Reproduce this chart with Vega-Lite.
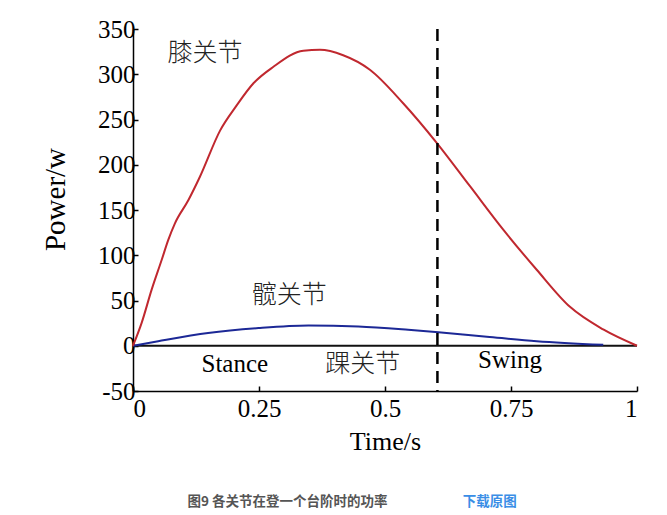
{
  "$schema": "https://vega.github.io/schema/vega-lite/v6.json",
  "width": 504,
  "height": 362,
  "autosize": "none",
  "padding": {"left": 133, "top": 29, "right": 30, "bottom": 124},
  "background": "white",
  "config": {
    "view": {"stroke": null},
    "axis": {
      "grid": false,
      "domainColor": "black",
      "domainWidth": 1.5,
      "tickColor": "black",
      "tickWidth": 1.5,
      "tickSize": -5,
      "labelFont": "Liberation Serif",
      "labelFontSize": 25,
      "labelColor": "black",
      "titleFont": "Liberation Serif",
      "titleFontWeight": "normal",
      "titleColor": "black"
    }
  },
  "title": {
    "text": "图9 各关节在登一个台阶时的功率",
    "orient": "bottom",
    "anchor": "start",
    "dx": 146,
    "offset": -14,
    "font": "Noto Sans CJK SC",
    "fontSize": 13.5,
    "fontWeight": "bold",
    "color": "#555555"
  },
  "datasets": {
    "curves": [
      {"joint": "ankle", "t": 0, "power": 0},
      {"joint": "ankle", "t": 0.25, "power": 0},
      {"joint": "ankle", "t": 0.5, "power": 0},
      {"joint": "ankle", "t": 0.75, "power": 0},
      {"joint": "ankle", "t": 1, "power": 0},
      {"joint": "hip", "t": 0, "power": 0},
      {"joint": "hip", "t": 0.05, "power": 5},
      {"joint": "hip", "t": 0.149, "power": 14},
      {"joint": "hip", "t": 0.249, "power": 19.5},
      {"joint": "hip", "t": 0.348, "power": 22.4},
      {"joint": "hip", "t": 0.447, "power": 21.3},
      {"joint": "hip", "t": 0.546, "power": 17.7},
      {"joint": "hip", "t": 0.606, "power": 15},
      {"joint": "hip", "t": 0.702, "power": 10},
      {"joint": "hip", "t": 0.801, "power": 5},
      {"joint": "hip", "t": 0.933, "power": 1},
      {"joint": "knee", "t": 0, "power": 0},
      {"joint": "knee", "t": 0.017, "power": 25},
      {"joint": "knee", "t": 0.037, "power": 62},
      {"joint": "knee", "t": 0.057, "power": 95},
      {"joint": "knee", "t": 0.07, "power": 117},
      {"joint": "knee", "t": 0.083, "power": 135},
      {"joint": "knee", "t": 0.11, "power": 161},
      {"joint": "knee", "t": 0.133, "power": 187},
      {"joint": "knee", "t": 0.173, "power": 238},
      {"joint": "knee", "t": 0.205, "power": 265},
      {"joint": "knee", "t": 0.239, "power": 290},
      {"joint": "knee", "t": 0.278, "power": 308},
      {"joint": "knee", "t": 0.338, "power": 326},
      {"joint": "knee", "t": 0.371, "power": 327},
      {"joint": "knee", "t": 0.417, "power": 321},
      {"joint": "knee", "t": 0.47, "power": 305},
      {"joint": "knee", "t": 0.536, "power": 268},
      {"joint": "knee", "t": 0.603, "power": 224},
      {"joint": "knee", "t": 0.669, "power": 176},
      {"joint": "knee", "t": 0.735, "power": 128},
      {"joint": "knee", "t": 0.801, "power": 84},
      {"joint": "knee", "t": 0.867, "power": 43},
      {"joint": "knee", "t": 0.933, "power": 18},
      {"joint": "knee", "t": 1, "power": 0}
    ],
    "labels": [
      {"label": "膝关节", "t": 0.143, "power": 323, "kind": "cjk"},
      {"label": "髋关节", "t": 0.31, "power": 56, "kind": "cjk"},
      {"label": "踝关节", "t": 0.456, "power": -20, "kind": "cjk"},
      {"label": "Stance", "t": 0.202, "power": -20, "kind": "latin"},
      {"label": "Swing", "t": 0.748, "power": -16, "kind": "latin"}
    ],
    "link": [
      {"label": "下载原图", "t": 0.708, "power": -173}
    ]
  },
  "encoding": {
    "x": {
      "field": "t",
      "type": "quantitative",
      "title": "Time/s",
      "scale": {"domain": [0, 1], "nice": false},
      "axis": {
        "values": [0, 0.25, 0.5, 0.75, 1],
        "format": ".2~f",
        "labelPadding": 10,
        "titleFontSize": 26,
        "titlePadding": 7
      }
    },
    "y": {
      "field": "power",
      "type": "quantitative",
      "title": "Power/w",
      "scale": {"domain": [-50, 350], "nice": false},
      "axis": {
        "values": [-50, 0, 50, 100, 150, 200, 250, 300, 350],
        "labelExpr": "datum.value < 0 ? '-' + format(-datum.value, 'd') : format(datum.value, 'd')",
        "labelPadding": 3,
        "titleFontSize": 29,
        "titlePadding": 27,
        "titleY": 170
      }
    }
  },
  "layer": [
    {
      "data": {"name": "curves"},
      "mark": {"type": "line", "interpolate": "monotone", "strokeWidth": 2},
      "encoding": {
        "detail": {"field": "joint"},
        "color": {
          "field": "joint",
          "type": "nominal",
          "scale": {"domain": ["ankle", "hip", "knee"], "range": ["#111111", "#1c2896", "#c0282f"]},
          "legend": null
        }
      }
    },
    {
      "data": {"values": [{"t": 0.604}]},
      "mark": {"type": "rule", "color": "black", "strokeWidth": 2.5, "strokeDash": [12, 7]},
      "encoding": {"x": {"field": "t", "type": "quantitative"}, "y": null}
    },
    {
      "data": {"name": "labels"},
      "transform": [{"filter": "datum.kind == 'cjk'"}],
      "mark": {"type": "text", "font": "Noto Sans CJK SC", "fontSize": 25, "fontWeight": 300, "color": "#222222", "align": "center", "baseline": "middle"},
      "encoding": {"text": {"field": "label"}}
    },
    {
      "data": {"name": "labels"},
      "transform": [{"filter": "datum.kind == 'latin'"}],
      "mark": {"type": "text", "font": "Liberation Serif", "fontSize": 25, "color": "black", "align": "center", "baseline": "middle"},
      "encoding": {"text": {"field": "label"}}
    },
    {
      "data": {"name": "link"},
      "mark": {"type": "text", "font": "Noto Sans CJK SC", "fontSize": 13.5, "fontWeight": "bold", "color": "#3a8ee6", "align": "center", "baseline": "middle", "clip": false},
      "encoding": {"text": {"field": "label"}}
    }
  ]
}
